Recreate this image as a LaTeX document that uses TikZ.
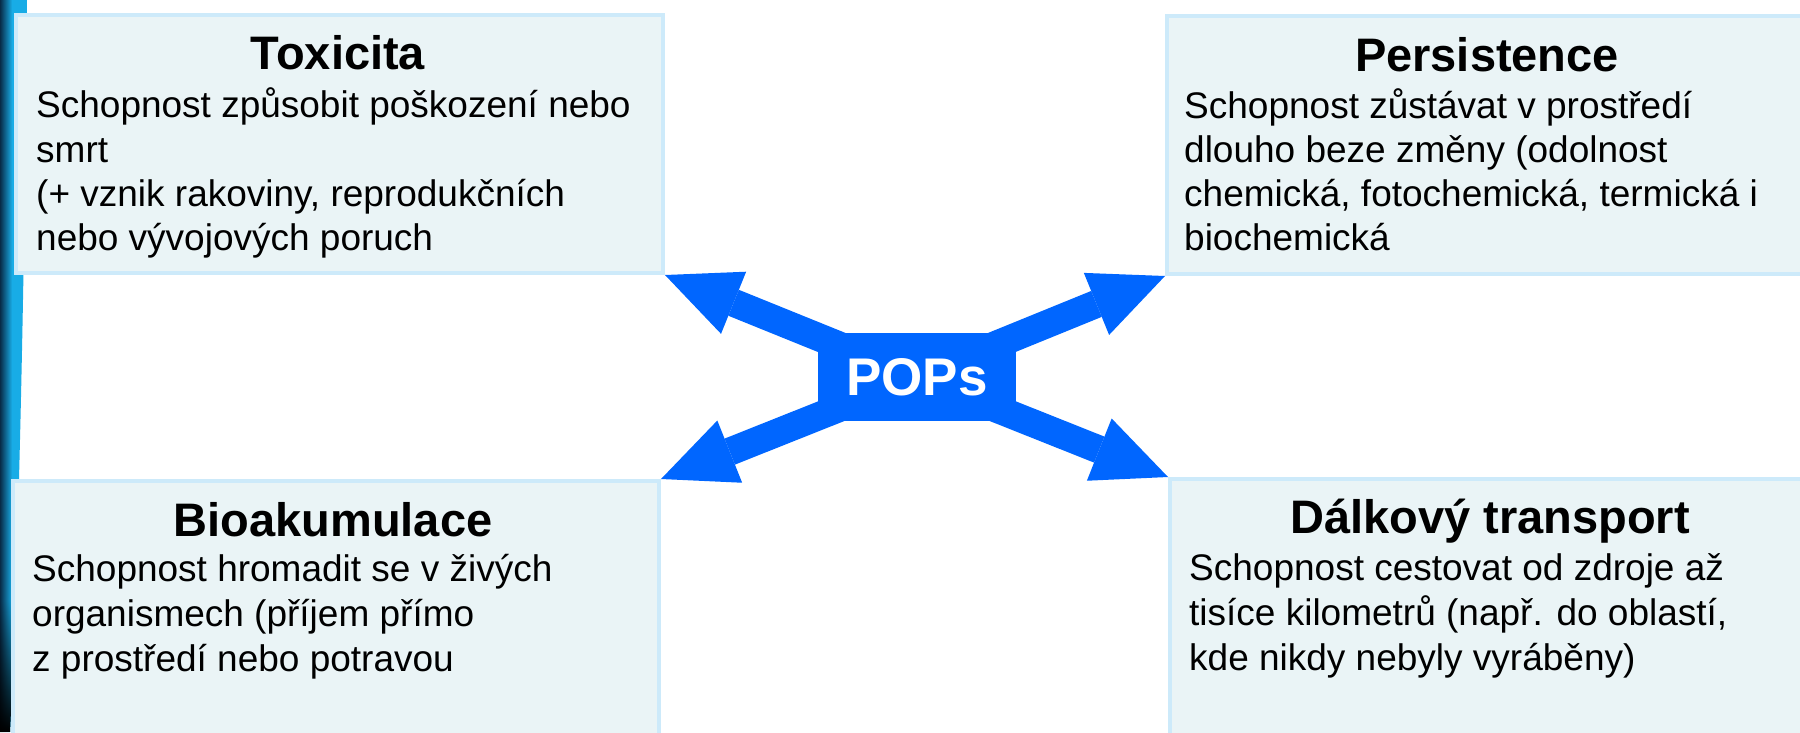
\documentclass[tikz,border=0pt]{standalone}
\usepackage{fontspec}
\setmainfont{Liberation Sans}
\usetikzlibrary{arrows.meta,fadings}
\definecolor{popblue}{RGB}{0,102,255}
\definecolor{boxfill}{RGB}{234,244,246}
\definecolor{boxline}{RGB}{205,234,250}
\definecolor{stripdark}{RGB}{8,44,72}
\definecolor{stripcyan}{RGB}{24,172,230}
\begin{document}
\begin{tikzpicture}[x=1pt,y=-1pt,
  infobox/.style={draw=boxline, fill=boxfill, line width=4pt, anchor=north west, inner sep=0pt},
  titletext/.style={font=\fontsize{47}{56}\selectfont\bfseries, anchor=base, inner sep=0pt},
  bodytext/.style={font=\fontsize{37}{44}\selectfont, anchor=base west, inner sep=0pt},
  popsbox/.style={fill=popblue, text=white, font=\fontsize{53}{60}\selectfont\bfseries, minimum width=198pt, minimum height=88pt, inner sep=0pt},
  bigarrow/.style={draw=popblue, line width=28pt, -{Triangle[length=74pt,width=67pt,line width=0pt]}}]
\useasboundingbox (0,0) rectangle (1800,732);
\clip (0,0) rectangle (1800,732);
\fill[white] (0,0) rectangle (1800,732);
% left decoration strip
\begin{scope}
\clip (0,0) -- (27,0) .. controls (25,250) and (19,550) .. (10,732) -- (0,732) -- cycle;
\fill[stripcyan] (0,0) rectangle (30,732);
\shade[left color=stripdark, right color=stripcyan] (0,0) rectangle (12,732);
\fill[black, path fading=north] (0,600) rectangle (30,732);
\end{scope}
% boxes
\node[infobox, minimum width=647pt, minimum height=258pt] (tl) at (14,13) {};
\node[infobox, minimum width=647pt, minimum height=258pt] (tr) at (1165,14) {};
\node[infobox, minimum width=646pt, minimum height=270pt] (bl) at (11,479) {};
\node[infobox, minimum width=646pt, minimum height=270pt] (br) at (1168,477) {};
% arrows
\coordinate (hub) at (917,377);
\draw[bigarrow] (hub) -- (tl.south east);
\draw[bigarrow] (hub) -- (tr.south west);
\draw[bigarrow] (hub) -- (bl.north east);
\draw[bigarrow] (hub) -- (br.north west);
\node[popsbox] (pops) at (hub) {POPs};
% texts
\node[titletext] (tlt) at (338,69) {Toxicita};
\node[bodytext] (tl1) at (36,117) {Schopnost způsobit poškození nebo};
\node[bodytext] (tl2) at (36,162) {smrt};
\node[bodytext] (tl3) at (36,206) {(+ vznik rakoviny, reprodukčních};
\node[bodytext] (tl4) at (36,250) {nebo vývojových poruch};
\node[titletext] (trt) at (1487,71) {Persistence};
\node[bodytext] (tr1) at (1184,118) {Schopnost zůstávat v prostředí};
\node[bodytext] (tr2) at (1184,162) {dlouho beze změny (odolnost};
\node[bodytext] (tr3) at (1184,206) {chemická, fotochemická, termická i};
\node[bodytext] (tr4) at (1184,250) {biochemická};
\node[titletext] (blt) at (333,536) {Bioakumulace};
\node[bodytext] (bl1) at (32,581) {Schopnost hromadit se v živých};
\node[bodytext] (bl2) at (32,626) {organismech (příjem přímo};
\node[bodytext] (bl3) at (32,671) {z prostředí nebo potravou};
\node[titletext] (brt) at (1490,533) {Dálkový transport};
\node[bodytext] (br1) at (1189,580) {Schopnost cestovat od zdroje až};
\node[bodytext] (br2) at (1189,625) {tisíce kilometrů (např. do oblastí,};
\node[bodytext] (br3) at (1189,670) {kde nikdy nebyly vyráběny)};
\end{tikzpicture}
\end{document}
